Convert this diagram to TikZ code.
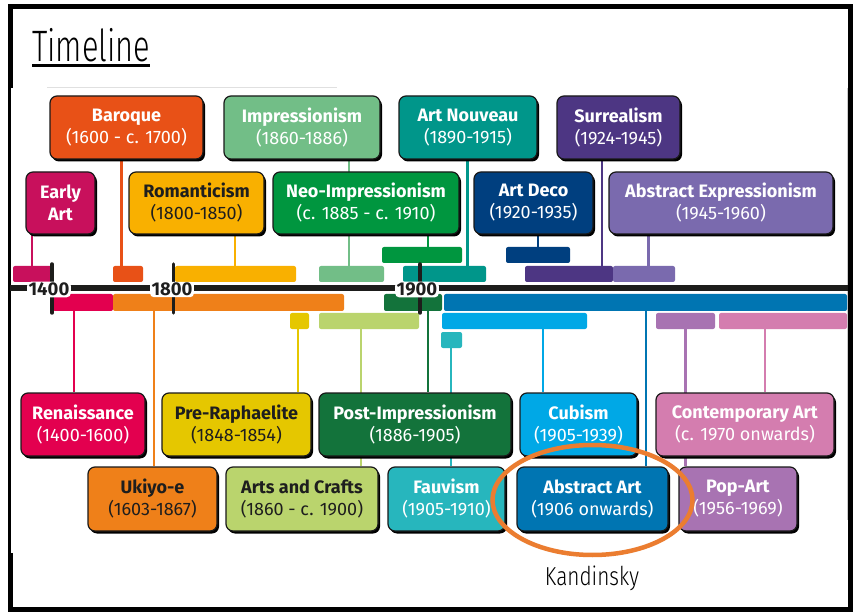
\documentclass[tikz,border=0pt]{standalone}
\usepackage{fontspec}
\usepackage{graphicx}
\setmainfont{Fira Sans}
\IfFontExistsTF{Fira Sans Light}{\newfontfamily\handfont{Fira Sans Light}}{\newfontfamily\handfont{Fira Sans}}
\usetikzlibrary{shadows,backgrounds,calc,shapes.geometric}

\definecolor{cEarly}{HTML}{C8105C}
\definecolor{cBaroque}{HTML}{E85117}
\definecolor{cRoman}{HTML}{F9B000}
\definecolor{cImpr}{HTML}{72BE87}
\definecolor{cNeo}{HTML}{00963F}
\definecolor{cNouveau}{HTML}{00968A}
\definecolor{cDeco}{HTML}{003F7F}
\definecolor{cSurreal}{HTML}{4D3683}
\definecolor{cAbsExp}{HTML}{7A6AAE}
\definecolor{cRen}{HTML}{E3004F}
\definecolor{cUkiyo}{HTML}{EF8019}
\definecolor{cPre}{HTML}{E5C700}
\definecolor{cArts}{HTML}{BAD46D}
\definecolor{cPost}{HTML}{13733B}
\definecolor{cFauv}{HTML}{27B6BD}
\definecolor{cCub}{HTML}{00A8E6}
\definecolor{cAbs}{HTML}{0075B2}
\definecolor{cCont}{HTML}{D47DAF}
\definecolor{cPop}{HTML}{A873B2}
\definecolor{cEll}{HTML}{EB7D30}
\definecolor{darktext}{HTML}{1E1E1E}
\definecolor{axisc}{HTML}{1D1D1B}

\tikzset{
  abox/.style={draw=black!90, line width=1.2pt, rounded corners=7pt, align=center,
    font=\fontsize{18}{22}\selectfont, inner sep=0pt, text=white,
    drop shadow={shadow xshift=2pt, shadow yshift=-2.5pt, fill=black, opacity=1}},
  dark/.style={text=darktext},
  tlbarstyle/.style={rounded corners=2pt, inner sep=0pt, draw=none},
  conn/.style={line width=2.8pt},
  tickline/.style={line width=3.5pt, axisc, line cap=round},
  ylab/.style={font=\bfseries\fontsize{18.5}{20}\selectfont, inner xsep=1.5pt, inner ysep=1.2pt,
    text=darktext, fill=white, rounded corners=4pt},
}

\newcommand\tlbar[6]{%
  \node[tlbarstyle, fill=#2, minimum width={(#5-#3)*1pt}, minimum height={(#6-#4)*1pt}]
    (#1) at ({(#3+#5)/2},{(#4+#6)/2}) {};}

\begin{document}
\begin{tikzpicture}[x=1pt,y=-1pt]
\useasboundingbox (0,0) rectangle (854,612);
\begin{pgfonlayer}{background}
  \draw[line width=5pt, black] (10.5,6.5) rectangle (850,609.5);
  \fill[white] (10.5,88) rectangle (847.5,553);
  \draw[black!12, line width=1pt] (47,88) -- (337,88);
  \draw[black!20, line width=1pt] (847.5,88) -- (847.5,520);
\end{pgfonlayer}

% title
\node[font=\handfont\fontsize{44}{50}\selectfont, anchor=base west, inner sep=0pt] (title) at (32,62) {\scalebox{0.7}[1]{Timeline}};
\draw[line width=2.5pt] (title.west |- 0,65.5) -- (title.east |- 0,65.5);

% axis
\coordinate (axL) at (10,288);
\coordinate (axR) at (848,288);
\draw[line width=5.5pt, axisc] (axL) -- (axR);

% bars
\tlbar{bEarly}{cEarly}{13}{266}{52}{282}
\tlbar{bBaroque}{cBaroque}{113}{266}{143}{282}
\tlbar{bRoman}{cRoman}{175}{266}{296}{282}
\tlbar{bImpr}{cImpr}{319}{266}{384}{282}
\tlbar{bNouveau}{cNouveau}{403}{266}{486}{282}
\tlbar{bSurreal}{cSurreal}{525}{266}{613}{282}
\tlbar{bAbsExp}{cAbsExp}{613}{266}{675}{282}
\tlbar{bNeo}{cNeo}{382}{247}{462}{263}
\tlbar{bDeco}{cDeco}{506}{247}{570}{263}
\tlbar{bRen}{cRen}{53}{294}{113}{311}
\tlbar{bUkiyo}{cUkiyo}{113}{294}{344}{311}
\tlbar{bPost}{cPost}{384}{294}{442}{311}
\tlbar{bAbs}{cAbs}{444}{294}{847}{311}
\tlbar{bPre}{cPre}{290}{313}{309}{329}
\tlbar{bArts}{cArts}{319}{313}{419}{329}
\tlbar{bCub}{cCub}{442}{313}{587}{329}
\tlbar{bPop}{cPop}{656}{313}{715}{329}
\tlbar{bCont}{cCont}{719}{313}{847}{329}
\tlbar{bFauv}{cFauv}{441}{332}{462}{348}

% ticks
\coordinate (t1a) at (52,264);  \coordinate (t1b) at (52,313);
\coordinate (t2a) at (173.5,264); \coordinate (t2b) at (173.5,313);
\coordinate (t3a) at (420,264); \coordinate (t3b) at (420,313);
\draw[tickline] (t1a) -- (t1b);
\draw[tickline] (t2a) -- (t2b);
\draw[tickline] (t3a) -- (t3b);

% year labels
\node[ylab] (y1400) at (49,289.5) {1400};
\node[ylab] (y1800) at (172,289.5) {1800};
\node[ylab] (y1900) at (417,289.5) {1900};

% top boxes
\node[abox, fill=cBaroque, minimum width=153pt, minimum height=63pt] (baroque) at (126.5,127.5) {\textbf{Baroque}\\(1600 - c. 1700)};
\node[abox, fill=cImpr, minimum width=156pt, minimum height=63pt] (impr) at (302,127.5) {\textbf{Impressionism}\\(1860-1886)};
\node[abox, fill=cNouveau, minimum width=138pt, minimum height=63pt] (nouveau) at (468,127.5) {\textbf{Art Nouveau}\\(1890-1915)};
\node[abox, fill=cSurreal, minimum width=123pt, minimum height=63pt] (surreal) at (618.5,127.5) {\textbf{Surrealism}\\(1924-1945)};
\node[abox, fill=cEarly, minimum width=69pt, minimum height=62pt] (early) at (60.5,203) {\textbf{Early}\\\textbf{Art}};
\node[abox, dark, fill=cRoman, minimum width=135pt, minimum height=62pt] (roman) at (196.5,203) {\textbf{Romanticism}\\(1800-1850)};
\node[abox, fill=cNeo, minimum width=186pt, minimum height=62pt] (neo) at (366,203) {\textbf{Neo-Impressionism}\\(c. 1885 - c. 1910)};
\node[abox, fill=cDeco, minimum width=119pt, minimum height=62pt] (deco) at (533.5,203) {\textbf{Art Deco}\\(1920-1935)};
\node[abox, fill=cAbsExp, minimum width=224pt, minimum height=62pt] (absexp) at (721,203) {\textbf{Abstract Expressionism}\\(1945-1960)};

% bottom boxes
\node[abox, fill=cRen, minimum width=124pt, minimum height=63pt] (ren) at (83,424.5) {\textbf{Renaissance}\\(1400-1600)};
\node[abox, dark, fill=cPre, minimum width=149pt, minimum height=63pt] (pre) at (236.5,424.5) {\textbf{Pre-Raphaelite}\\(1848-1854)};
\node[abox, fill=cPost, minimum width=192pt, minimum height=63pt] (post) at (415,424.5) {\textbf{Post-Impressionism}\\(1886-1905)};
\node[abox, fill=cCub, minimum width=117pt, minimum height=63pt] (cub) at (578.5,424.5) {\textbf{Cubism}\\(1905-1939)};
\node[abox, fill=cCont, minimum width=178pt, minimum height=63pt] (cont) at (745,424.5) {\textbf{Contemporary Art}\\(c. 1970 onwards)};
\node[abox, dark, fill=cUkiyo, minimum width=129pt, minimum height=64pt] (ukiyo) at (152.5,499) {\textbf{Ukiyo-e}\\(1603-1867)};
\node[abox, dark, fill=cArts, minimum width=152pt, minimum height=64pt] (arts) at (302,499) {\textbf{Arts and Crafts}\\(1860 - c. 1900)};
\node[abox, fill=cFauv, minimum width=117pt, minimum height=64pt] (fauv) at (446.5,499) {\textbf{Fauvism}\\(1905-1910)};
\node[abox, fill=cAbs, minimum width=151pt, minimum height=64pt] (absart) at (592.5,499) {\textbf{Abstract Art}\\(1906 onwards)};
\node[abox, fill=cPop, minimum width=118pt, minimum height=64pt] (pop) at (738,499) {\textbf{Pop-Art}\\(1956-1969)};

% connectors
\begin{pgfonlayer}{background}
  \draw[conn, cEarly]    (early.south -| 32,0)     -- (bEarly.north -| 32,0);
  \draw[conn, cBaroque]  (baroque.south -| 121.5,0) -- (bBaroque.north -| 121.5,0);
  \draw[conn, cRoman]    (roman.south -| 235,0)    -- (bRoman.north -| 235,0);
  \draw[conn, cImpr]     (impr.south -| 349,0)     -- (bImpr.north -| 349,0);
  \draw[conn, cNeo]      (neo.south -| 428,0)      -- (bNeo.north -| 428,0);
  \draw[conn, cNouveau]  (nouveau.south -| 467.5,0) -- (bNouveau.north -| 467.5,0);
  \draw[conn, cDeco]     (deco.south -| 538,0)     -- (bDeco.north -| 538,0);
  \draw[conn, cSurreal]  (surreal.south -| 602,0)  -- (bSurreal.north -| 602,0);
  \draw[conn, cAbsExp]   (absexp.south -| 648.5,0) -- (bAbsExp.north -| 648.5,0);
  \draw[conn, cRen]      (bRen.south -| 74,0)      -- (ren.north -| 74,0);
  \draw[conn, cUkiyo]    (bUkiyo.south -| 154,0)   -- (ukiyo.north -| 154,0);
  \draw[conn, cPre]      (bPre.south -| 298,0)     -- (pre.north -| 298,0);
  \draw[conn, cArts]     (bArts.south -| 361,0)    -- (arts.north -| 361,0);
  \draw[conn, cPost]     (bPost.south -| 428,0)    -- (post.north -| 428,0);
  \draw[conn, cFauv]     (bFauv.south -| 451,0)    -- (fauv.north -| 451,0);
  \draw[conn, cCub]      (bCub.south -| 543,0)     -- (cub.north -| 543,0);
  \draw[conn, cAbs]      (bAbs.south -| 646,0)     -- (absart.north -| 646,0);
  \draw[conn, cPop]      (bPop.south -| 685.5,0)   -- (pop.north -| 685.5,0);
  \draw[conn, cCont]     (bCont.south -| 765,0)    -- (cont.north -| 765,0);
\end{pgfonlayer}

% highlight ring and note
\node[ellipse, draw=cEll, line width=4.5pt, minimum width=200pt, minimum height=110pt, inner sep=0pt] (ring) at (592.5,500) {};
\node[font=\handfont\fontsize{26}{30}\selectfont, anchor=base, inner sep=0pt] (kand) at (592,585) {\scalebox{0.8}[1]{Kandinsky}};
\end{tikzpicture}
\end{document}
